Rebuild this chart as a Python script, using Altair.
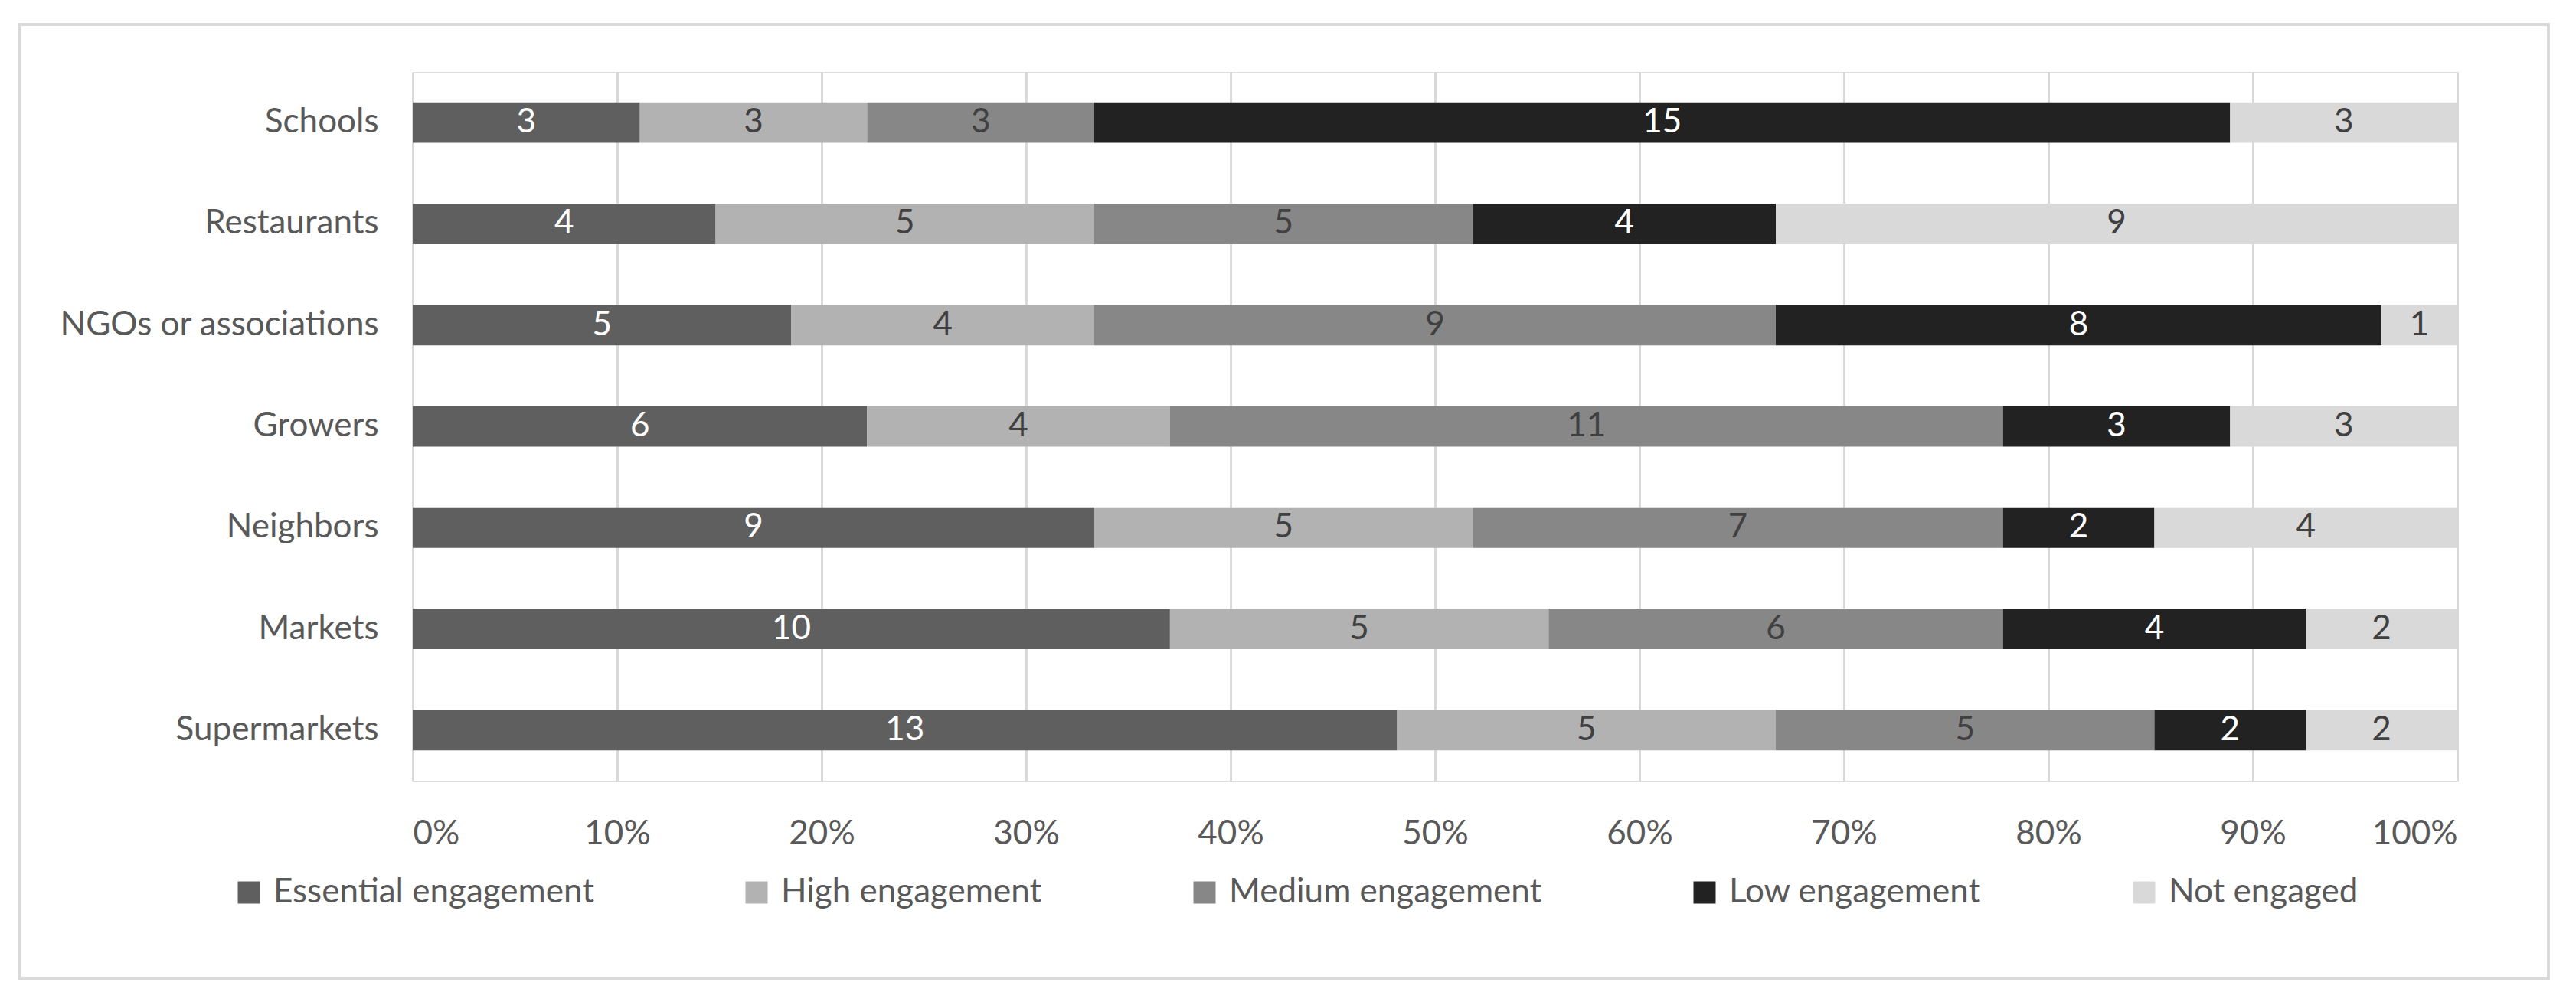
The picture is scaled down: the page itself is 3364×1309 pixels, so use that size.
import altair as alt
import pandas as pd

categories = ["Schools", "Restaurants", "NGOs or associations", "Growers",
              "Neighbors", "Markets", "Supermarkets"]
series = ["Essential engagement", "High engagement", "Medium engagement",
          "Low engagement", "Not engaged"]
essential = [3, 4, 5, 6, 9, 10, 13]
high = [3, 5, 4, 4, 5, 5, 5]
medium = [3, 5, 9, 11, 7, 6, 5]
low = [15, 4, 8, 3, 2, 4, 2]
not_engaged = [3, 9, 1, 3, 4, 2, 2]
colors = ["#5f5f5f", "#b2b2b2", "#878787", "#222222", "#d9d9d9"]
text_colors = ["#ffffff", "#404040", "#404040", "#ffffff", "#404040"]
tick_values = [i / 10 for i in range(11)]

rows = []
for si, (s, vals) in enumerate(zip(series, [essential, high, medium, low, not_engaged])):
    for c, v in zip(categories, vals):
        rows.append({"cat": c, "series": s, "order": si, "value": v,
                     "tcolor": text_colors[si]})
df = pd.DataFrame(rows)

FONT = "Lato"

base = alt.Chart(df).transform_stack(
    stack="value", groupby=["cat"], as_=["v0", "v1"], offset="normalize",
    sort=[alt.SortField("order", order="ascending")]
).transform_calculate(mid="(datum.v0 + datum.v1) / 2")

yenc = alt.Y("cat:N", sort=categories,
             scale=alt.Scale(paddingInner=0.6, paddingOuter=0.3),
             axis=alt.Axis(title=None, ticks=False, domain=False, grid=False,
                           labelPadding=45, labelFontSize=44, labelFont=FONT,
                           labelColor="#595959", labelLimit=0))

bars = base.mark_bar().encode(
    x=alt.X("v0:Q", scale=alt.Scale(domain=[0, 1], nice=False),
            axis=alt.Axis(title=None, values=tick_values, format=".0%",
                          ticks=False, domain=False, grid=True,
                          gridColor="#d9d9d9", gridWidth=3,
                          labelFontSize=44, labelFont=FONT, labelColor="#595959",
                          labelPadding=69, labelBaseline="middle", labelLimit=0)),
    x2="v1:Q",
    y=yenc,
    color=alt.Color("series:N", sort=series,
                    scale=alt.Scale(domain=series, range=colors),
                    legend=alt.Legend(title=None, orient="none", direction="horizontal",
                                      legendX=-236, legendY=1050,
                                      symbolType="square", symbolSize=841,
                                      symbolStrokeWidth=0, labelFontSize=44,
                                      labelFont=FONT, labelColor="#595959",
                                      labelOffset=10, columnPadding=190,
                                      labelLimit=0, padding=0)),
    order=alt.Order("order:Q"),
)

labels = base.mark_text(fontSize=44, font=FONT, baseline="middle", align="center").encode(
    x=alt.X("mid:Q"),
    y=alt.Y("cat:N", sort=categories),
    text=alt.Text("value:Q"),
    color=alt.Color("tcolor:N", scale=None),
)

frame = alt.Chart(df).mark_rect(fill=None, stroke="#d9d9d9", strokeWidth=3).encode(
    x=alt.value(-513), x2=alt.value(2789), y=alt.value(-62), y2=alt.value(1184)
)

chart = alt.layer(frame, bars, labels).properties(
    width=2670, height=926,
    autosize=alt.AutoSizeParams(type="none"),
    padding={"left": 531, "top": 86, "right": 140, "bottom": 270},
).configure_view(stroke=None).configure(background="white")

chart.save("out.html", embed_options={"renderer": "svg", "actions": False})
